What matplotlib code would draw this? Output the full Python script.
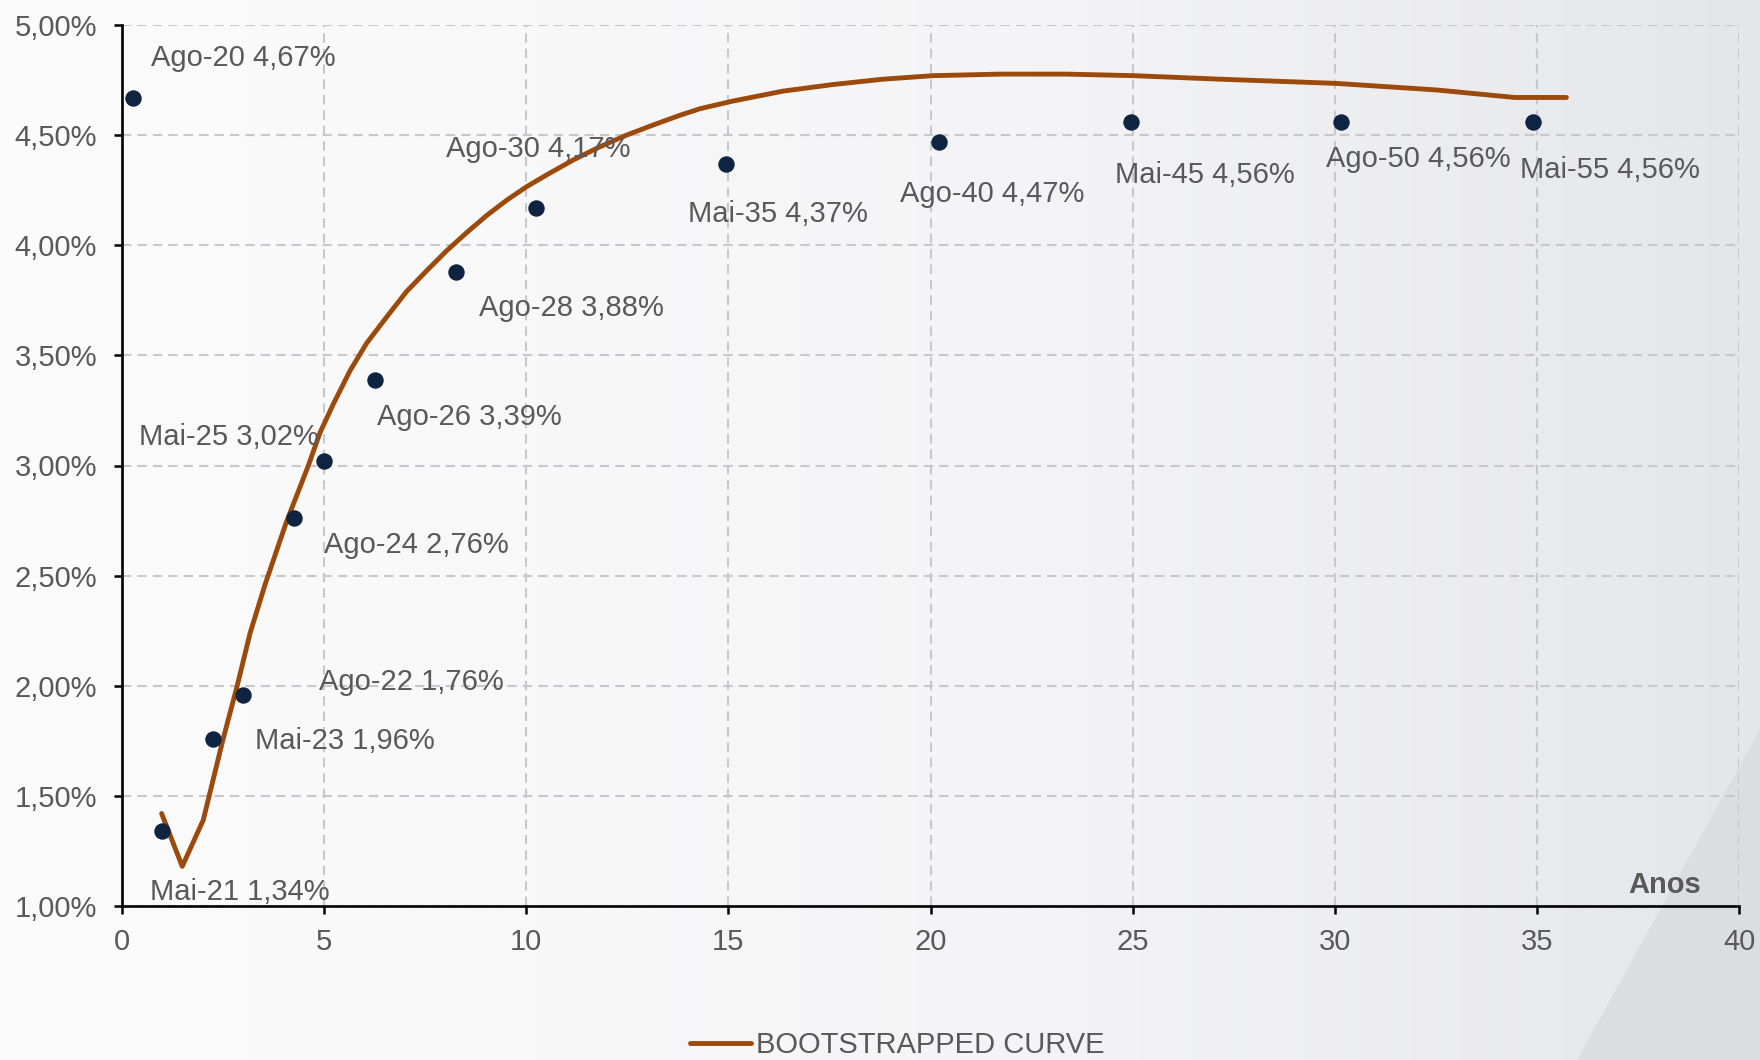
"""
Yield curve: market points vs bootstrapped curve.
"""

import matplotlib

matplotlib.use("Agg")
import matplotlib.pyplot as plt
import matplotlib.ticker as tkr
import numpy as np
from matplotlib.colors import LinearSegmentedColormap
from matplotlib.patches import Polygon

# market points (years to maturity, yield in %)
labels = ["Ago-20", "Mai-21", "Ago-22", "Mai-23", "Ago-24", "Mai-25", "Ago-26",
          "Ago-28", "Ago-30", "Mai-35", "Ago-40", "Mai-45", "Ago-50", "Mai-55"]
maturities = [0.27, 1.0, 2.25, 3.0, 4.25, 5.0, 6.25, 8.25, 10.25, 14.95, 20.2,
              24.95, 30.15, 34.9]
yields = [4.67, 1.34, 1.76, 1.96, 2.76, 3.02, 3.39, 3.88, 4.17, 4.37, 4.47,
          4.56, 4.56, 4.56]

# bootstrapped curve
curve_x = [0.98, 1.49, 2.01, 2.49, 2.85, 3.17, 3.54, 4.06, 4.61, 4.90, 5.23,
           5.64, 6.05, 6.55, 7.04, 7.54, 8.03, 8.53, 9.02, 9.52, 10.01, 10.51,
           11.16, 11.82, 12.48, 13.14, 13.80, 14.30, 15.12, 16.36, 17.60,
           18.83, 20.07, 21.72, 23.37, 25.02, 27.16, 30.02, 32.52, 34.45, 35.73]
curve_y = [1.42, 1.18, 1.39, 1.75, 2.00, 2.24, 2.46, 2.74, 3.00, 3.15, 3.28,
           3.43, 3.555, 3.675, 3.79, 3.885, 3.975, 4.058, 4.135, 4.205, 4.266,
           4.32, 4.387, 4.447, 4.50, 4.546, 4.59, 4.62, 4.655, 4.70, 4.730,
           4.754, 4.77, 4.777, 4.777, 4.77, 4.754, 4.735, 4.705, 4.671, 4.671]

x_ticks = [0, 5, 10, 15, 20, 25, 30, 35, 40]
y_ticks = [1.0, 1.5, 2.0, 2.5, 3.0, 3.5, 4.0, 4.5, 5.0]

# label offsets in pixels (dx, dy) from each point, and alignment
label_offsets = [(18, 32), (-12, -69), (106, 49), (12, -54), (30, -35),
                 (-5, 16), (2, -45), (23, -44), (-90, 51), (-38, -58),
                 (-39, -60), (-16, -61), (-15, -45), (-13, -56)]
label_ha = ["left"] * 5 + ["right"] + ["left"] * 8

TEXT = "#595959"
FS = 21


def pctfmt(x, pos):
    return "{:.2f}%".format(x).replace(".", ",")


plt.rcParams["font.family"] = ["Liberation Sans", "DejaVu Sans"]

fig = plt.figure(figsize=(17.6, 10.6), dpi=100)

# background: light left-to-right gradient plus a darker corner shape
bg = fig.add_axes([0, 0, 1, 1], zorder=-10)
bg.axis("off")
cmap = LinearSegmentedColormap.from_list("bg", ["#fbfbfb", "#f4f4f6", "#e5e6e9"])
grad = np.linspace(0, 1, 512) ** 1.3
bg.imshow(np.tile(grad, (4, 1)), cmap=cmap, aspect="auto",
          extent=[0, 1, 0, 1], vmin=0, vmax=1)
bg.add_patch(Polygon([(1577 / 1760, 0), (1, 331 / 1060), (1, 0)],
                     closed=True, color="#dcdde1", lw=0))
bg.set_xlim(0, 1)
bg.set_ylim(0, 1)

ax = fig.add_axes([122 / 1760, 1 - 906 / 1060, (1739 - 122) / 1760, (906 - 25) / 1060])
ax.set_facecolor("none")

ax.plot(curve_x, curve_y, color="#9c4a0b", lw=3.5, solid_capstyle="round",
        solid_joinstyle="round", label="BOOTSTRAPPED CURVE", zorder=3)
ax.scatter(maturities, yields, s=140, color="#0f2440", zorder=4, lw=0)

for lab, x, y, off, ha in zip(labels, maturities, yields, label_offsets, label_ha):
    ax.annotate("{} {}".format(lab, pctfmt(y, None)), (x, y), xytext=off,
                textcoords="offset pixels", ha=ha, va="baseline",
                fontsize=FS, color=TEXT, zorder=5)

ax.set_xlim(0, 40)
ax.set_ylim(1.0, 5.0)
ax.set_xticks(x_ticks)
ax.set_yticks(y_ticks)
ax.yaxis.set_major_formatter(tkr.FuncFormatter(pctfmt))
ax.tick_params(labelsize=FS, labelcolor=TEXT, width=1.8, length=6, color="black")
ax.tick_params(axis="y", pad=12)
ax.tick_params(axis="x", pad=10)
ax.grid(True, color="#c8c8cc", lw=1.5, ls=(0, (4.5, 2.9)))
ax.set_axisbelow(True)
for side in ["top", "right"]:
    ax.spines[side].set_visible(False)
for side in ["left", "bottom"]:
    ax.spines[side].set_linewidth(1.9)
    ax.spines[side].set_color("black")
    ax.spines[side].set_zorder(6)

ax.text(0.9765, 0.0148, "Anos", transform=ax.transAxes, ha="right",
        va="baseline", fontsize=FS, fontweight="bold", color=TEXT)

fig.legend(loc="center", bbox_to_anchor=(0.5097, 1 - 1045 / 1060), frameon=False,
           fontsize=FS, labelcolor=TEXT, handlelength=2.1, handletextpad=0.17,
           borderaxespad=0, borderpad=0)

fig.savefig("out.png", dpi=100)
